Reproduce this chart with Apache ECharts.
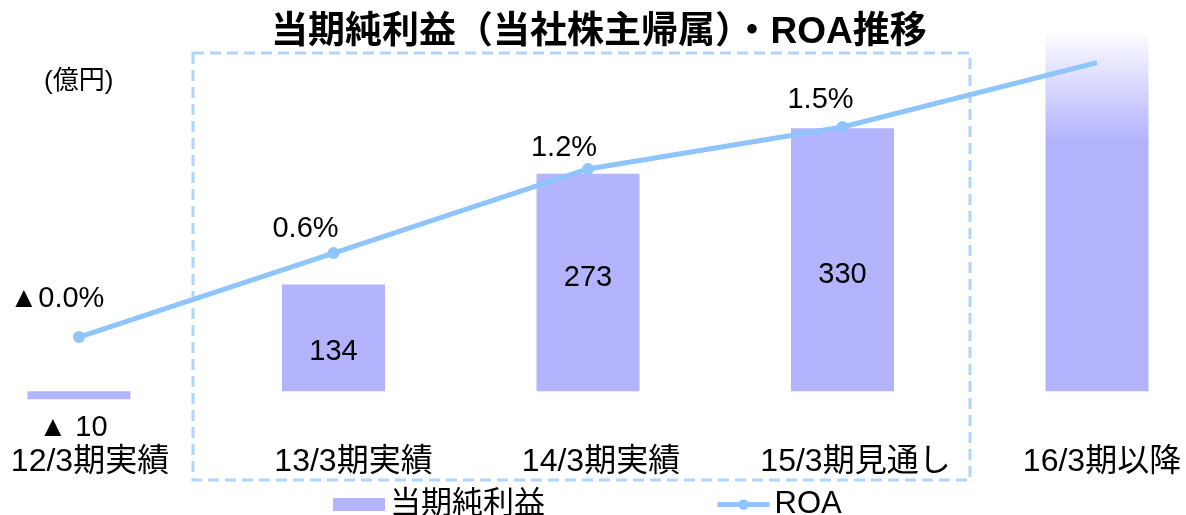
<!DOCTYPE html>
<html>
<head>
<meta charset="utf-8">
<title>当期純利益・ROA推移</title>
<script src="https://cdn.jsdelivr.net/npm/echarts@6/dist/echarts.min.js"></script>
<style>
  html, body { margin: 0; padding: 0; background: #fff; }
  #chart { width: 1186px; height: 515px; }
</style>
</head>
<body>
<div id="chart"></div>
<script>
const categories = ['12/3期実績', '13/3期実績', '14/3期実績', '15/3期見通し', '16/3期以降']
const netIncome = [-10, 134, 273, 330, 447]
const netIncomeLabels = ['▲ 10', '134', '273', '330', '']
const roa = [0, 0.6, 1.2, 1.5, 1.96]
const roaLabels = ['▲0.0%', '0.6%', '1.2%', '1.5%', '']

const FONT = "'Liberation Sans', 'Noto Sans CJK JP', sans-serif"
const BAR = '#b3b3fe'
const LINE = '#8ec5ff'

// label tweaks: bar label distance from baseline, ROA label offsets, x label nudges
const barLabelDist = [0, 25, 99, 102, 0]
const roaLabelOffset = [[-22, -13], [-28, 1], [-24, 5], [-22, -1], [0, 0]]
const xLabelNudge = [11, 20, 13, 13, 5]

const chart = echarts.init(document.getElementById('chart'))

const barData = netIncome.map((v, i) => {
  const item = { value: v, label: { distance: barLabelDist[i] } }
  if (v < 0) {
    item.label = { position: 'inside', offset: [-6, 33] }
  }
  if (i === netIncome.length - 1) {
    item.itemStyle = {
      color: new echarts.graphic.LinearGradient(0, 0, 0, 1, [
        { offset: 0, color: 'rgba(179,179,254,0.05)' },
        { offset: 0.15, color: 'rgba(179,179,254,0.55)' },
        { offset: 0.3, color: BAR },
        { offset: 1, color: BAR }
      ])
    }
  }
  return item
})

const roaData = roa.map((v, i) => {
  const item = { value: v, label: { offset: roaLabelOffset[i] } }
  if (i === roa.length - 1) item.symbol = 'none'
  return item
})

const xData = categories.map((c, i) => ({
  value: c,
  textStyle: { padding: [0, 0, 0, xLabelNudge[i] * 2] }
}))

const option = {
  animation: false,
  textStyle: { fontFamily: FONT },
  title: {
    text: '当期純利益（当社株主帰属）・ROA推移',
    left: 266,
    top: 9,
    textStyle: { fontSize: 37, fontWeight: 'bold', color: '#000', fontFamily: FONT }
  },
  legend: {
    left: 328,
    top: 484,
    itemWidth: 52,
    itemHeight: 13,
    itemGap: 170,
    textStyle: { fontSize: 31, color: '#000', fontFamily: FONT },
    data: [
      { name: '当期純利益', icon: 'rect' },
      { name: 'ROA', lineStyle: { width: 5 } }
    ]
  },
  graphic: [
    {
      type: 'rect',
      shape: { x: 193, y: 53, width: 777, height: 427 },
      style: { fill: 'none', stroke: '#b0d6fb', lineWidth: 3, lineDash: [11, 6] },
      z: 0
    },
    {
      type: 'text',
      left: 44,
      top: 69,
      style: { text: '(億円)', fontSize: 26, fill: '#000', fontFamily: FONT }
    }
  ],
  grid: { left: 79, right: 89, top: 20, bottom: 84 },
  xAxis: {
    type: 'category',
    data: xData,
    boundaryGap: false,
    axisLine: { show: false, onZero: false },
    axisTick: { show: false },
    axisLabel: { fontSize: 32, color: '#000', margin: 15, fontFamily: FONT }
  },
  yAxis: [
    { type: 'value', min: -50, max: 466, show: false, splitLine: { show: false } },
    { type: 'value', min: -0.671, max: 2.264, show: false, splitLine: { show: false } }
  ],
  series: [
    {
      name: '当期純利益',
      type: 'bar',
      yAxisIndex: 0,
      barWidth: 103,
      clip: false,
      itemStyle: { color: BAR },
      label: {
        show: true,
        position: 'insideBottom',
        fontSize: 29,
        color: '#000',
        fontFamily: FONT,
        formatter: p => netIncomeLabels[p.dataIndex]
      },
      data: barData
    },
    {
      name: 'ROA',
      type: 'line',
      yAxisIndex: 1,
      clip: false,
      symbol: 'circle',
      symbolSize: 12,
      lineStyle: { color: LINE, width: 5 },
      itemStyle: { color: LINE },
      label: {
        show: true,
        position: 'top',
        fontSize: 29,
        color: '#000',
        fontFamily: FONT,
        formatter: p => roaLabels[p.dataIndex]
      },
      data: roaData,
      z: 3
    }
  ]
}

chart.setOption(option)
window.addEventListener('resize', () => chart.resize())
</script>
</body>
</html>
